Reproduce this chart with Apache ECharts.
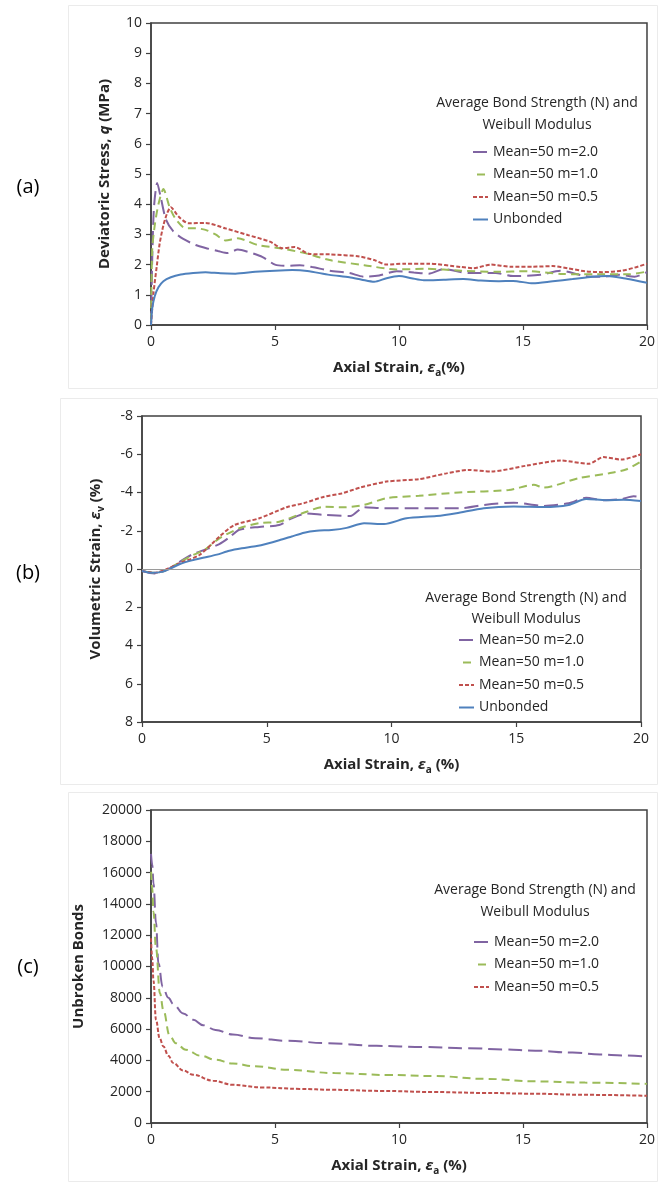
<!DOCTYPE html>
<html><head><meta charset="utf-8">
<script src="https://cdn.jsdelivr.net/npm/echarts@6/dist/echarts.min.js"></script>
<style>html,body{margin:0;padding:0;background:#fff}#c{width:658px;height:1182px}</style>
</head><body><div id="c"></div><script>
// ---------- DATA ----------
const seriesNames = ['Mean=50 m=2.0', 'Mean=50 m=1.0', 'Mean=50 m=0.5', 'Unbonded'];
const xTicks = [0, 5, 10, 15, 20];

// (a) Deviatoric stress q (MPa) vs axial strain (%)
const qX_m20 = [0, 0.05, 0.12, 0.25, 0.4, 0.6, 0.9, 1.3, 1.8, 2.2, 2.7, 3.1, 3.5, 4, 4.5, 5, 5.5, 6, 6.5, 7.2, 8, 8.6, 9.2, 9.9, 10.6, 11.2, 11.8, 12.8, 13.9, 14.6, 15.7, 16.5, 17.5, 18.2, 18.9, 19.5, 20];
const qY_m20 = [0, 2.2, 3.9, 4.7, 4.2, 3.5, 3.1, 2.85, 2.65, 2.55, 2.45, 2.38, 2.5, 2.4, 2.25, 2.0, 1.96, 1.98, 1.92, 1.8, 1.72, 1.6, 1.64, 1.78, 1.74, 1.7, 1.85, 1.72, 1.72, 1.62, 1.66, 1.8, 1.62, 1.6, 1.66, 1.6, 1.75];
const qX_m10 = [0, 0.05, 0.15, 0.3, 0.5, 0.75, 1.0, 1.4, 1.8, 2.2, 2.6, 3.0, 3.5, 4.3, 5.2, 6.2, 7.2, 8.6, 9.9, 11.1, 12.5, 13.9, 15.2, 16.6, 18, 19.3, 20];
const qY_m10 = [0, 2.5, 3.3, 4.0, 4.5, 3.9, 3.5, 3.2, 3.2, 3.15, 3.0, 2.8, 2.87, 2.65, 2.54, 2.38, 2.15, 1.98, 1.84, 1.86, 1.8, 1.76, 1.78, 1.69, 1.68, 1.68, 1.77];
const qX_m05 = [0, 0.1, 0.23, 0.35, 0.5, 0.65, 0.8, 1.1, 1.5, 2.2, 3.0, 3.9, 4.8, 5.3, 5.8, 6.4, 7.2, 8.4, 9.0, 9.5, 10.2, 11.2, 12.5, 13.0, 13.7, 14.5, 15.4, 16.2, 16.8, 17.5, 18.2, 19, 19.5, 20];
const qY_m05 = [0, 1.05, 1.93, 2.7, 3.3, 3.7, 3.9, 3.6, 3.37, 3.38, 3.2, 2.98, 2.76, 2.54, 2.58, 2.35, 2.34, 2.27, 2.15, 2.0, 2.03, 2.03, 1.92, 1.88, 2.0, 1.93, 1.93, 1.95, 1.88, 1.78, 1.75, 1.8, 1.9, 2.03];
const qX_unb = [0, 0.05, 0.15, 0.3, 0.5, 0.8, 1.2, 1.7, 2.2, 2.8, 3.4, 4.2, 5, 5.7, 6.3, 7.2, 8, 8.5, 9, 9.5, 10, 10.5, 11, 11.8, 12.6, 13.3, 14, 14.6, 15.4, 16.2, 17, 17.8, 18.4, 19, 19.5, 20];
const qY_unb = [0, 0.55, 0.95, 1.25, 1.45, 1.58, 1.67, 1.72, 1.75, 1.71, 1.7, 1.76, 1.8, 1.82, 1.79, 1.66, 1.58, 1.5, 1.43, 1.55, 1.62, 1.55, 1.48, 1.5, 1.52, 1.47, 1.45, 1.46, 1.38, 1.45, 1.52, 1.6, 1.62, 1.56, 1.48, 1.4];
const qTicks = [0, 1, 2, 3, 4, 5, 6, 7, 8, 9, 10];

// (b) Volumetric strain (%) vs axial strain (%)
const vX_m20 = [0, 0.5, 0.9, 1.2, 1.6, 2, 2.5, 3.1, 3.5, 3.9, 4.7, 5.5, 6.0, 6.6, 7.3, 8.35, 8.9, 9.7, 11, 12.8, 13.7, 14.9, 16.1, 17.1, 17.8, 18.5, 19.2, 19.7, 20];
const vY_m20 = [0.1, 0.23, 0.1, -0.1, -0.45, -0.75, -1.0, -1.3, -1.65, -2.05, -2.2, -2.3, -2.65, -2.9, -2.83, -2.77, -3.23, -3.18, -3.18, -3.18, -3.35, -3.47, -3.3, -3.44, -3.72, -3.6, -3.65, -3.8, -3.75];
const vX_m10 = [0, 0.5, 1.0, 1.5, 2, 2.5, 3.1, 3.9, 4.7, 5.5, 6.4, 7.3, 8.1, 8.9, 9.8, 11.1, 12.7, 14.7, 15.7, 16.1, 17.5, 18.7, 19.4, 20];
const vY_m10 = [0.1, 0.2, 0.05, -0.35, -0.7, -1.0, -1.6, -2.13, -2.4, -2.47, -2.9, -3.25, -3.23, -3.35, -3.7, -3.83, -4.0, -4.13, -4.4, -4.26, -4.75, -5.0, -5.2, -5.62];
const vX_m05 = [0, 0.5, 1.0, 1.5, 2.3, 3.1, 3.7, 4.7, 5.8, 6.5, 7.3, 8.0, 8.75, 9.8, 11.1, 12.2, 13.1, 14.0, 15.4, 16.8, 17.9, 18.5, 19.2, 20];
const vY_m05 = [0.1, 0.2, 0.0, -0.3, -0.73, -1.69, -2.3, -2.65, -3.23, -3.45, -3.78, -3.95, -4.26, -4.57, -4.7, -5.0, -5.18, -5.1, -5.4, -5.67, -5.5, -5.85, -5.72, -6.0];
const vX_unb = [0, 0.4, 0.8, 1.1, 1.5, 2, 2.5, 3, 3.5, 4, 4.6, 5, 5.5, 6, 6.5, 7, 7.6, 8.2, 8.9, 9.7, 10.6, 11.8, 12.6, 13.7, 14.9, 16.1, 17.1, 17.8, 18.6, 19.3, 20];
const vY_unb = [0.1, 0.2, 0.15, 0, -0.25, -0.45, -0.6, -0.75, -0.95, -1.08, -1.2, -1.32, -1.5, -1.7, -1.9, -2.0, -2.04, -2.15, -2.39, -2.35, -2.65, -2.77, -2.92, -3.18, -3.27, -3.24, -3.35, -3.66, -3.6, -3.62, -3.55];
const vTicks = [-8, -6, -4, -2, 0, 2, 4, 6, 8];

// (c) Unbroken bonds vs axial strain (%)
const bX_m20 = [0, 0.05, 0.1, 0.2, 0.3, 0.47, 0.7, 0.9, 1.3, 1.7, 2.1, 2.6, 3.3, 4.2, 5.5, 7.1, 9.1, 11, 12.8, 14.2, 15.5, 17, 18.1, 19, 20];
const bY_m20 = [17200, 16500, 15300, 12800, 10200, 8700, 8000, 7600, 7000, 6600, 6250, 5950, 5650, 5420, 5250, 5100, 4930, 4850, 4780, 4700, 4620, 4500, 4380, 4320, 4250];
const bX_m10 = [0, 0.05, 0.1, 0.2, 0.36, 0.5, 0.75, 1.0, 1.4, 2.0, 2.6, 3.3, 4.2, 5.5, 7.4, 9.5, 11.4, 13.5, 15.5, 17.5, 20];
const bY_m10 = [16300, 15000, 13500, 11200, 8300, 7200, 5600, 5100, 4680, 4300, 4040, 3800, 3620, 3400, 3190, 3070, 3000, 2820, 2660, 2580, 2500];
const bX_m05 = [0, 0.05, 0.1, 0.2, 0.35, 0.5, 0.7, 0.9, 1.3, 1.7, 2.5, 3.3, 4.5, 6, 7.3, 9.3, 11.4, 13.5, 15.5, 17.5, 20];
const bY_m05 = [11800, 10500, 9100, 6600, 5400, 4890, 4300, 3830, 3350, 3080, 2700, 2440, 2270, 2180, 2120, 2050, 1980, 1920, 1870, 1800, 1740];
const bTicks = [0, 2000, 4000, 6000, 8000, 10000, 12000, 14000, 16000, 18000, 20000];

// ---------- STYLE ----------
const FONT = '"Open Sans", sans-serif';
const TXT = '#262626';
const AX = '#404040';
const colors = ['#8064A2', '#9BBB59', '#C0504D', '#4F81BD'];
const dashes = [[14, 6], [8, 5], [4, 2], 'solid'];
const dashOffsets = [0, 9, 0, 0];

const zip = (xs, ys) => xs.map((x, i) => [x, ys[i]]);

const grids = [
  {left: 151, top: 23, width: 498, height: 302},
  {left: 142, top: 416, width: 499, height: 306},
  {left: 151, top: 810, width: 498, height: 313}
];

const richSub = {
  e: {fontFamily: FONT, fontSize: 15, fontWeight: 'bold', fontStyle: 'italic', color: TXT, lineHeight: 20},
  s: {fontFamily: FONT, fontSize: 10, fontWeight: 'bold', color: TXT, lineHeight: 10, verticalAlign: 'bottom'},
  q: {fontFamily: FONT, fontSize: 15, fontWeight: 'bold', fontStyle: 'italic', color: TXT, lineHeight: 20}
};
const nameStyle = {fontFamily: FONT, fontSize: 15, fontWeight: 'bold', color: TXT, lineHeight: 20, rich: richSub};

function xAxis(i, name) {
  return {
    type: 'value', gridIndex: i, min: xTicks[0], max: xTicks[xTicks.length - 1], interval: 5,
    name: name, nameLocation: 'middle', nameGap: 33, nameTextStyle: nameStyle,
    axisLine: {show: true, onZero: false, lineStyle: {color: AX, width: 1.5}},
    axisTick: {show: true, length: 5, lineStyle: {color: AX, width: 1.2}},
    axisLabel: {fontFamily: FONT, fontSize: 14, color: TXT, margin: 10},
    splitLine: {show: false}
  };
}
function yAxis(i, ticks, name, gap, extra) {
  return Object.assign({
    type: 'value', gridIndex: i, min: ticks[0], max: ticks[ticks.length - 1], interval: ticks[1] - ticks[0],
    name: name, nameLocation: 'middle', nameGap: gap, nameRotate: 90, nameTextStyle: nameStyle,
    axisLine: {show: true, onZero: false, lineStyle: {color: AX, width: 1.5}},
    axisTick: {show: true, length: 5, lineStyle: {color: AX, width: 1.2}},
    axisLabel: {fontFamily: FONT, fontSize: 14, color: TXT, margin: 9, formatter: v => String(v)},
    splitLine: {show: false}
  }, extra || {});
}

function line(name, k, gi, xs, ys, extra) {
  return Object.assign({
    name: name, type: 'line', xAxisIndex: gi, yAxisIndex: gi,
    data: zip(xs, ys), symbol: 'none', showSymbol: false, smooth: 0.25,
    lineStyle: {color: colors[k], width: 2, type: dashes[k], dashOffset: dashOffsets[k]},
    itemStyle: {color: colors[k]}, animation: false
  }, extra || {});
}

const series = [
  line(seriesNames[0], 0, 0, qX_m20, qY_m20),
  line(seriesNames[1], 1, 0, qX_m10, qY_m10),
  line(seriesNames[2], 2, 0, qX_m05, qY_m05),
  line(seriesNames[3], 3, 0, qX_unb, qY_unb),
  line(seriesNames[0], 0, 1, vX_m20, vY_m20),
  line(seriesNames[1], 1, 1, vX_m10, vY_m10),
  line(seriesNames[2], 2, 1, vX_m05, vY_m05),
  line(seriesNames[3], 3, 1, vX_unb, vY_unb, {
    markLine: {silent: true, symbol: 'none', label: {show: false},
      lineStyle: {color: '#9a9a9a', width: 1, type: 'solid'}, data: [{yAxis: 0}], animation: false}
  }),
  line(seriesNames[0], 0, 2, bX_m20, bY_m20, {smooth: 0.4, smoothMonotone: 'x'}),
  line(seriesNames[1], 1, 2, bX_m10, bY_m10, {smooth: 0.4, smoothMonotone: 'x'}),
  line(seriesNames[2], 2, 2, bX_m05, bY_m05, {smooth: 0.4, smoothMonotone: 'x'})
];

function legend(left, top, names) {
  return {
    orient: 'vertical', left: left, top: top, data: names,
    itemWidth: 15, itemHeight: 14, itemGap: 8.5, itemTextGap: 2, padding: 0,
    selectedMode: false,
    itemStyle: {opacity: 0},
    textStyle: {fontFamily: FONT, fontSize: 14, color: TXT, lineHeight: 14}
  };
}

function legendTitle(cx, y1, y2) {
  const st = {font: '14px ' + FONT, fill: TXT, align: 'center', verticalAlign: 'middle'};
  return [
    {type: 'text', x: cx, y: y1, silent: true, style: Object.assign({text: 'Average Bond Strength (N) and'}, st)},
    {type: 'text', x: cx, y: y2, silent: true, style: Object.assign({text: 'Weibull Modulus'}, st)}
  ];
}
function panelLabel(t, cx, cy) {
  return {type: 'text', x: cx, y: cy, silent: true,
    style: {text: t, font: '20px ' + FONT, fill: '#000', align: 'center', verticalAlign: 'middle'}};
}
function frame(x, y, w, h) {
  return {type: 'rect', silent: true, z: -10, shape: {x: x, y: y, width: w, height: h},
    style: {fill: 'none', stroke: '#ebebeb', lineWidth: 1}};
}

const option = {
  backgroundColor: '#fff',
  animation: false,
  grid: grids.map(g => Object.assign({show: true, borderColor: AX, borderWidth: 1.5, backgroundColor: 'transparent'}, g)),
  xAxis: [
    xAxis(0, 'Axial Strain, {e|ε}{s|a}(%)'),
    xAxis(1, 'Axial Strain, {e|ε}{s|a} (%)'),
    xAxis(2, 'Axial Strain, {e|ε}{s|a} (%)')
  ],
  yAxis: [
    yAxis(0, qTicks, 'Deviatoric Stress, {q|q} (MPa)', 36),
    yAxis(1, vTicks, 'Volumetric Strain, {e|ε}{s|v} (%)', 36, {inverse: true}),
    yAxis(2, bTicks, 'Unbroken Bonds', 62)
  ],
  legend: [
    legend(472, 145, seriesNames),
    legend(458, 633, seriesNames),
    legend(473, 935, seriesNames.slice(0, 3))
  ],
  graphic: [
    frame(68.5, 5.5, 589, 383),
    frame(60.5, 398.5, 597, 386),
    frame(68.5, 792.5, 589, 389),
    panelLabel('(a)', 28, 187),
    panelLabel('(b)', 28, 573),
    panelLabel('(c)', 28, 967)
  ].concat(legendTitle(537, 103, 125), legendTitle(526, 598, 619), legendTitle(535, 890, 912)),
  series: series
};

const chart = echarts.init(document.getElementById('c'), null, {renderer: 'canvas'});
chart.setOption(option);
</script></body></html>
